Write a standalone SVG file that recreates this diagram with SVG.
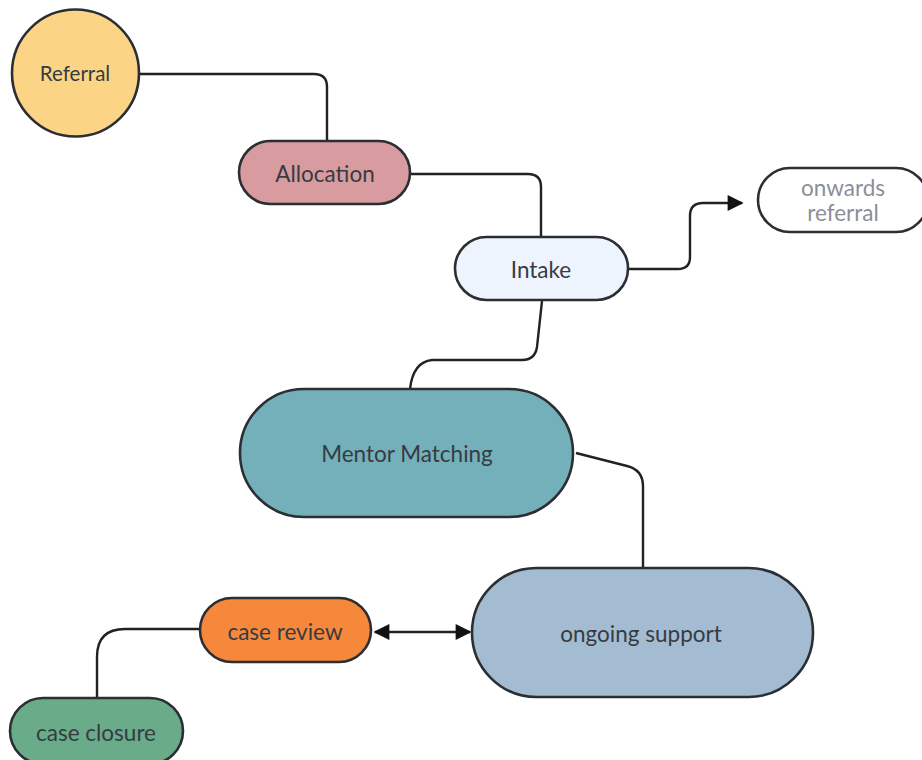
<svg xmlns="http://www.w3.org/2000/svg" width="922" height="760" viewBox="0 0 922 760">
<defs>
<marker id="ah" viewBox="0 0 10 10" refX="9" refY="5" markerWidth="17" markerHeight="16" markerUnits="userSpaceOnUse" orient="auto-start-reverse">
<path d="M0,0 L10,5 L0,10 z" fill="#111"/>
</marker>
<style>
.n{stroke:#2b2f33;stroke-width:2.6}
.t{font-family:Lato,"Open Sans","Liberation Sans",sans-serif;font-size:22.5px;fill:#363b42;text-anchor:middle;dominant-baseline:central}
.c{fill:none;stroke:#222;stroke-width:2.4}
</style>
</defs>
<rect width="922" height="760" fill="#fff"/>
<g id="connectors">
<path class="c" d="M139,74 L314,74 Q327,74 327,87 L327,141"/>
<path class="c" d="M410,174 L528,174 Q541,174 541,187 L541,237"/>
<path class="c" d="M628,269 L678,269 Q690,269 690,257 L690,216 Q690,203 703,203 L742,203" marker-end="url(#ah)"/>
<path class="c" d="M542,301 L537,347 Q535,360 522,360 L432,360 Q413,362 410,389"/>
<path class="c" d="M576,453 L627,466 Q643,470 643,486 L643,568"/>
<path class="c" d="M375,632 L470,632" marker-start="url(#ah)" marker-end="url(#ah)"/>
<path class="c" d="M200,629 L125,629 Q97,629 97,657 L97,698"/>
</g>
<g id="referral">
<circle class="n" cx="75.5" cy="73" r="63.5" fill="#fbd585"/>
<text class="t" x="75" y="73" style="font-size:20.5px">Referral</text>
</g>
<g id="allocation">
<rect class="n" x="239" y="141" width="171" height="63" rx="31.5" fill="#d89ba0"/>
<text class="t" x="325" y="173">Allocation</text>
</g>
<g id="intake">
<rect class="n" x="455" y="237" width="173" height="63" rx="31.5" fill="#eef4fd"/>
<text class="t" x="541" y="269">Intake</text>
</g>
<g id="onwards">
<rect class="n" x="758" y="168" width="170" height="64" rx="32" fill="#fff"/>
<text class="t" x="843" y="187" style="fill:#8a8f99">onwards</text>
<text class="t" x="843" y="212" style="fill:#8a8f99">referral</text>
</g>
<g id="mentor">
<rect class="n" x="240" y="389" width="333" height="128" rx="64" fill="#73b0ba"/>
<text class="t" x="407" y="453">Mentor Matching</text>
</g>
<g id="ongoing">
<rect class="n" x="472" y="568" width="341" height="129" rx="64.5" fill="#a3bcd2"/>
<text class="t" x="641" y="633">ongoing support</text>
</g>
<g id="review">
<rect class="n" x="200" y="598" width="171" height="64" rx="32" fill="#f5883a"/>
<text class="t" x="285" y="631">case review</text>
</g>
<g id="closure">
<rect class="n" x="10" y="698" width="173" height="66" rx="33" fill="#6aab8a"/>
<text class="t" x="96" y="732">case closure</text>
</g>
</svg>
